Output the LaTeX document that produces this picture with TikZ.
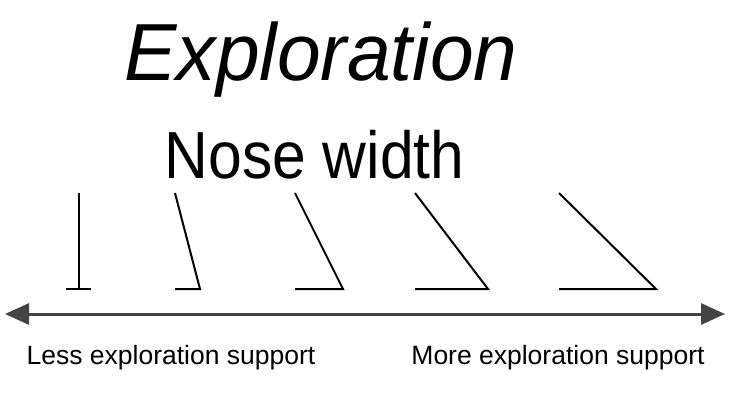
\documentclass[tikz,border=0pt]{standalone}
\usepackage{fontspec}
\setmainfont{Liberation Sans}
\usetikzlibrary{arrows.meta}
\definecolor{axisgray}{HTML}{444444}
\tikzset{
  glyph/.style={line width=2pt, black, line cap=butt, line join=miter},
  axis/.style={line width=3pt, axisgray, {Triangle[length=24pt,width=21pt]}-{Triangle[length=24pt,width=21pt]}},
  lbl/.style={inner sep=0pt, anchor=base, font=\fontsize{26.5}{30}\selectfont}
}
\begin{document}
\begin{tikzpicture}[x=1pt,y=-1pt]
\useasboundingbox (0,0) rectangle (747,392);
% titles
\node[inner sep=0pt, anchor=base] (title) at (321,80) {\scalebox{0.97}[1]{\fontsize{81}{90}\selectfont\itshape Exploration}};
\node[inner sep=0pt, anchor=base] (sub) at (314.5,178) {\scalebox{0.91}[1]{\fontsize{66.6}{75}\selectfont Nose width}};
% glyph 1
\coordinate (g1t) at (79,193); \coordinate (g1b) at (79,289);
\coordinate (g1l) at (66,289); \coordinate (g1r) at (91,289);
\draw[glyph] (g1t) -- (g1b);
\draw[glyph] (g1l) -- (g1r);
% glyph 2
\coordinate (g2t) at (175,193); \coordinate (g2b) at (200,289); \coordinate (g2l) at (175,289);
\draw[glyph] (g2t) -- (g2b) -- (g2l);
% glyph 3
\coordinate (g3t) at (295,193); \coordinate (g3b) at (343,289); \coordinate (g3l) at (295,289);
\draw[glyph] (g3t) -- (g3b) -- (g3l);
% glyph 4
\coordinate (g4t) at (415,193); \coordinate (g4b) at (488,289); \coordinate (g4l) at (415,289);
\draw[glyph] (g4t) -- (g4b) -- (g4l);
% glyph 5
\coordinate (g5t) at (559,193); \coordinate (g5b) at (656,289); \coordinate (g5l) at (559,289);
\draw[glyph] (g5t) -- (g5b) -- (g5l);
% axis
\coordinate (al) at (5,314); \coordinate (ar) at (725,314);
\draw[axis] (al) -- (ar);
% labels
\node[lbl] (less) at (171,364) {Less exploration support};
\node[lbl] (more) at (558,364) {More exploration support};
\end{tikzpicture}
\end{document}
